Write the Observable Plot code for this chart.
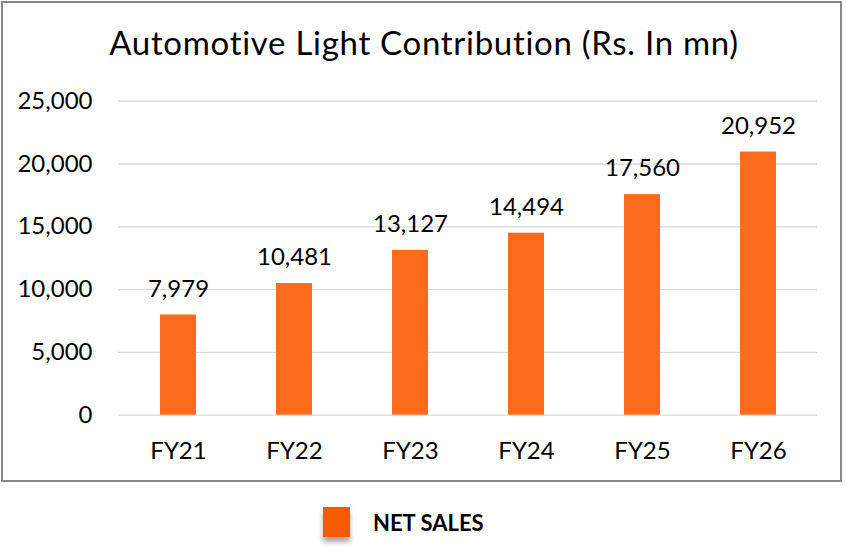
<!DOCTYPE html>
<html>
<head>
<meta charset="utf-8">
<script src="https://cdn.jsdelivr.net/npm/d3@7"></script>
<script src="https://cdn.jsdelivr.net/npm/@observablehq/plot@0.6"></script>
<style>
  html, body { margin: 0; padding: 0; background: #fff; }
  #wrap { position: relative; width: 846px; height: 547px; overflow: hidden; font-family: Lato, "Open Sans", sans-serif; }
  #frame { position: absolute; left: 1px; top: 1px; width: 837px; height: 477px; border: 2px solid #878787; }
  #title { position: absolute; left: 0; top: 22px; width: 848px; text-align: center; font-size: 33px; letter-spacing: 0.7px; line-height: 40px; color: #000; }
  #chart { position: absolute; left: 0; top: 0; }
  #legend { position: absolute; left: 323px; top: 507px; display: flex; align-items: center; }
  #legend .sw { width: 27px; height: 30px; background: #F45B00; box-shadow: 0 5px 5px rgba(0,0,0,0.35); }
  #legend .lb { margin-left: 23px; font-weight: 700; font-size: 22px; color: #000; }
</style>
</head>
<body>
<div id="wrap">
  <div id="frame"></div>
  <div id="chart"></div>
  <div id="title"></div>
  <div id="legend"><div class="sw"></div><div class="lb"></div></div>
</div>
<script>
const titleText = "Automotive Light Contribution (Rs. In mn)";
const categories = ["FY21", "FY22", "FY23", "FY24", "FY25", "FY26"];
const netSales = [7979, 10481, 13127, 14494, 17560, 20952];
const yTicks = [0, 5000, 10000, 15000, 20000, 25000];
const seriesName = "NET SALES";

const data = categories.map((c, i) => ({ fy: c, value: netSales[i] }));
const fmt = d3.format(",");

document.getElementById("title").textContent = titleText;
document.querySelector("#legend .lb").textContent = seriesName;

const chart = Plot.plot({
  width: 846,
  height: 480,
  marginLeft: 118,
  marginRight: 29,
  marginTop: 100.7,
  marginBottom: 65.3,
  style: { fontFamily: "Lato, 'Open Sans', sans-serif", fontSize: "24px", color: "#000", background: "transparent" },
  x: { domain: categories, paddingInner: 0.69, paddingOuter: 0.345, label: null },
  y: { domain: [0, 25000], label: null },
  marks: [
    Plot.gridY(yTicks, { stroke: "#d9d9d9", strokeOpacity: 1, strokeWidth: 1.3 }),
    Plot.barY(data, { x: "fy", y: "value", fill: "#FA6B1E" }),
    Plot.text(data, { x: "fy", y: "value", text: d => fmt(d.value), dy: -26, fontSize: 24, fill: "#000" }),
    Plot.axisY(yTicks, { tickSize: 0, tickPadding: 26, tickFormat: fmt, fontSize: 24, label: null }),
    Plot.axisX({ tickSize: 0, tickPadding: 27, fontSize: 24, label: null })
  ]
});
document.getElementById("chart").appendChild(chart);
</script>
</body>
</html>
